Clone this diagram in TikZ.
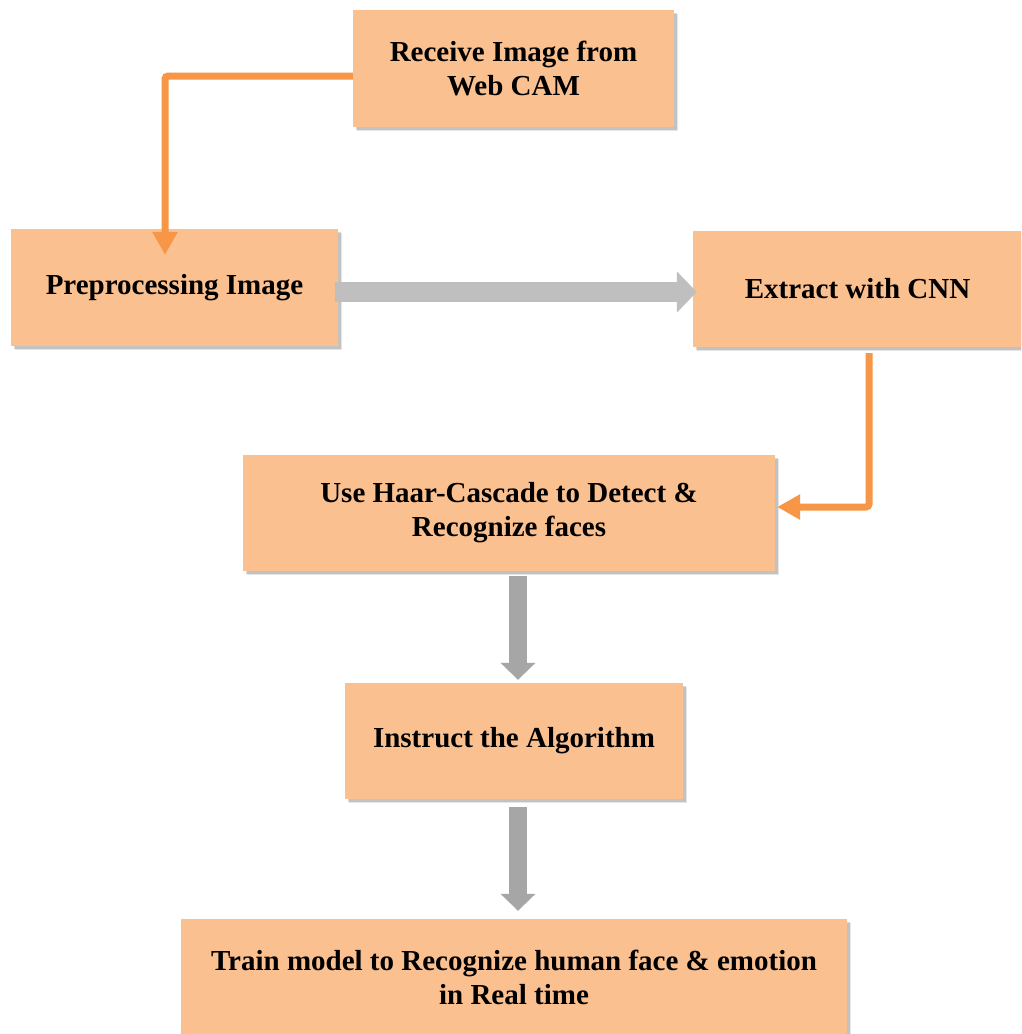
\documentclass[tikz,border=0pt]{standalone}
\usepackage{fontspec}
\setmainfont{Liberation Serif}
\usetikzlibrary{arrows.meta,shadows}
\definecolor{boxfill}{HTML}{FAC090}
\definecolor{orangeline}{HTML}{F79646}
\definecolor{grayA}{HTML}{BFBFBF}
\definecolor{grayB}{HTML}{A6A6A6}
\begin{document}
\begin{tikzpicture}[x=1pt,y=-1pt,
  stepbox/.style={fill=boxfill, draw=none, align=center, inner sep=0pt,
    font=\bfseries\fontsize{29}{34}\selectfont,
    general shadow={fill=black, opacity=0.10, shadow xshift=4pt, shadow yshift=-4pt},
    general shadow={fill=black, opacity=0.15, shadow xshift=2.5pt, shadow yshift=-2.5pt}},
  oarrow/.style={draw=orangeline, line width=7pt, rounded corners=3pt,
    -{Triangle[length=23pt,width=24pt]}},
  harrow/.style={draw=grayA, line width=20pt, -{Triangle[length=20pt,width=40pt]}},
  varrow/.style={draw=grayB, line width=18pt, -{Triangle[length=17pt,width=34pt]}}]
\clip (0,0) rectangle (1021,1034);
\fill[white] (0,0) rectangle (1021,1034);
\node[stepbox, minimum width=321pt, minimum height=117pt] (b1) at (513.5,68.5) {Receive Image from\\Web CAM};
\node[stepbox, minimum width=327pt, minimum height=117pt] (b2) at (174.5,287.5) {\raisebox{-3pt}{Preprocessing Image}};
\node[stepbox, minimum width=329pt, minimum height=116pt] (b3) at (857.5,289) {\raisebox{-1pt}{Extract with CNN}};
\node[stepbox, minimum width=532pt, minimum height=116pt] (b4) at (509,513) {Use Haar-Cascade to Detect \&\\Recognize faces};
\node[stepbox, minimum width=338pt, minimum height=116pt] (b5) at (514,741) {\raisebox{-3pt}{Instruct the Algorithm}};
\node[stepbox, minimum width=666pt, minimum height=116pt] (b6) at (514,977) {Train model to Recognize human face \& emotion\\in Real time};
\draw[oarrow] ([yshift=-7.5pt]b1.west) -| ([xshift=-9.5pt,yshift=-26pt]b2.north);
\draw[harrow] ([xshift=-3pt,yshift=-4.5pt]b2.east) -- ([xshift=4pt,yshift=-3pt]b3.west);
\draw[oarrow] ([xshift=11.5pt,yshift=-6pt]b3.south) |- ([xshift=2pt,yshift=6pt]b4.east);
\draw[varrow] ([xshift=9pt,yshift=-5pt]b4.south) -- ([xshift=4pt,yshift=3pt]b5.north);
\draw[varrow] ([xshift=4pt,yshift=-8pt]b5.south) -- ([xshift=4pt,yshift=8pt]b6.north);
\end{tikzpicture}
\end{document}
